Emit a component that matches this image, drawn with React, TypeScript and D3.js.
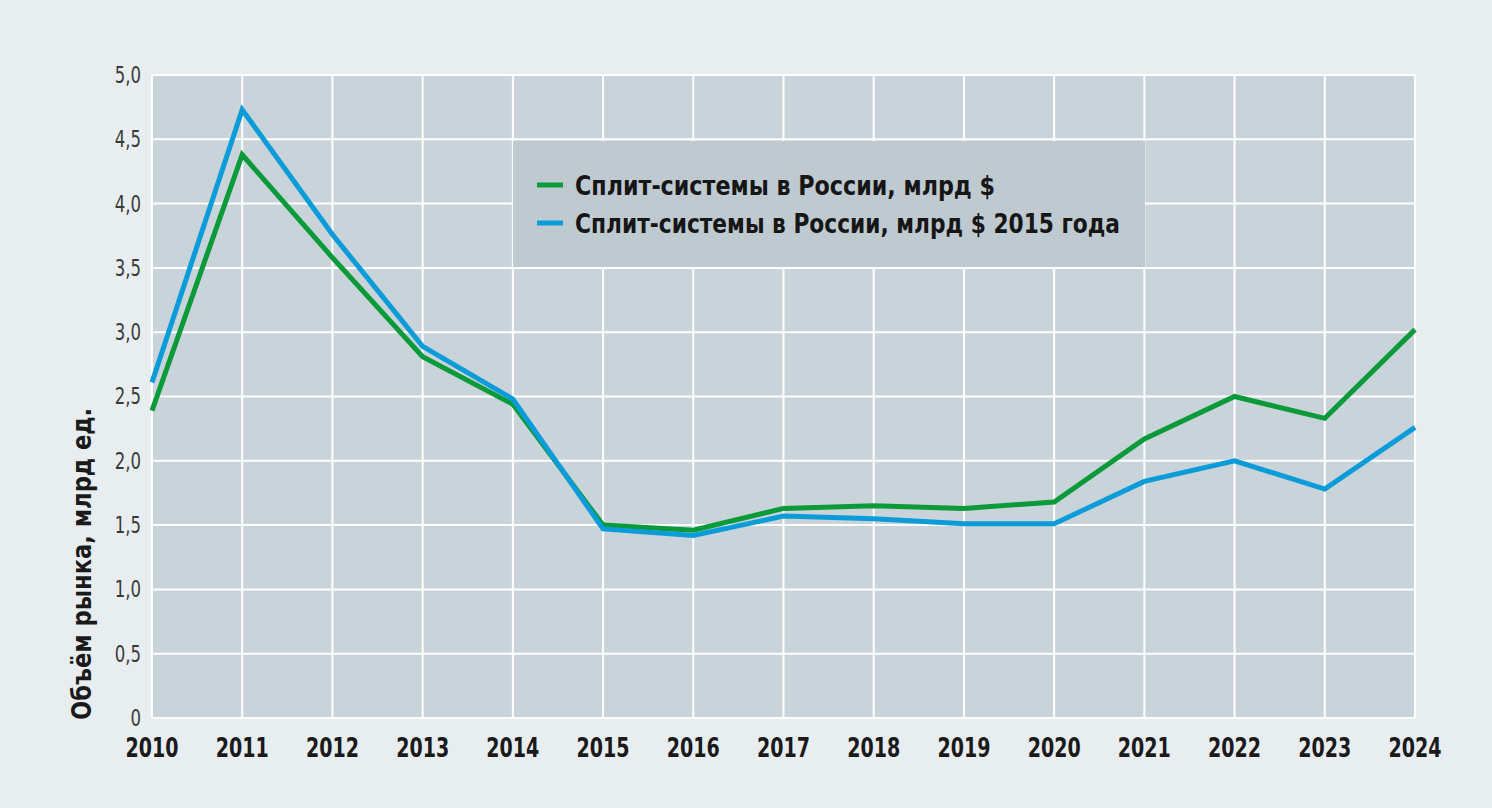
import React from "react";
import * as d3 from "d3";

const years = [2010, 2011, 2012, 2013, 2014, 2015, 2016, 2017, 2018, 2019, 2020, 2021, 2022, 2023, 2024];
const nominal = [2.39, 4.38, 3.58, 2.81, 2.44, 1.5, 1.46, 1.63, 1.65, 1.63, 1.68, 2.17, 2.5, 2.33, 3.02];
const real2015 = [2.61, 4.73, 3.76, 2.89, 2.48, 1.47, 1.42, 1.57, 1.55, 1.51, 1.51, 1.84, 2.0, 1.78, 2.26];
const yTicks = [0, 0.5, 1, 1.5, 2, 2.5, 3, 3.5, 4, 4.5, 5];
const seriesNames = ["Сплит-системы в России, млрд $", "Сплит-системы в России, млрд $ 2015 года"];
const yTitle = "Объём рынка, млрд ед.";

const W = 1492, H = 808;
const L = 152, R = 1415, T = 75, B = 718;
const COND = "'DejaVu Sans Condensed', 'Roboto Condensed', 'Liberation Sans Narrow', Roboto, sans-serif";

export default function App() {
  const x = d3.scaleLinear().domain([2010, 2024]).range([L, R]);
  const y = d3.scaleLinear().domain([0, 5]).range([B, T]);
  const line = d3.line<number>().x((_, i) => x(years[i])).y((d) => y(d));
  const fmt = (v: number) => (v === 0 ? "0" : v.toFixed(1).replace(".", ","));
  const colors = ["#0b9a3a", "#0a9bd9"];
  return (
    <svg width={W} height={H} style={{ position: "absolute", left: 0, top: 0, display: "block" }}>
      <rect x={0} y={0} width={W} height={H} fill="#e8edf0" />
      <rect x={L} y={T} width={R - L} height={B - T} fill="#c8d3da" />
      {yTicks.map((t) => (
        <line key={"h" + t} x1={L} x2={R} y1={y(t)} y2={y(t)} stroke="#ffffff" strokeWidth={2} />
      ))}
      {years.map((yr) => (
        <line key={"v" + yr} x1={x(yr)} x2={x(yr)} y1={T} y2={B} stroke="#ffffff" strokeWidth={2} />
      ))}
      {yTicks.map((t) => (
        <text key={"yt" + t} x={141} y={y(t) + 8} textAnchor="end" fontFamily={COND} fontSize={23} fill="#3a3a3a" fontWeight={300} transform={`translate(${141},0) scale(0.8,1) translate(${-141},0)`}>
          {fmt(t)}
        </text>
      ))}
      {years.map((yr) => (
        <text key={"xt" + yr} x={x(yr)} y={757} textAnchor="middle" fontFamily={COND} fontSize={27} fontWeight={700} fill="#1a1a1a" textLength={53} lengthAdjust="spacingAndGlyphs">
          {yr}
        </text>
      ))}
      <text transform={`translate(91,564) rotate(-90)`} textAnchor="middle" fontFamily={COND} fontSize={26} fontWeight={700} fill="#1a1a1a" textLength={312} lengthAdjust="spacingAndGlyphs">
        {yTitle}
      </text>
      {/* legend box */}
      <rect x={513} y={141} width={632} height={126} fill="#bec9d0" />
      {[nominal, real2015].map((s, i) => (
        <path key={"s" + i} d={line(s) || ""} fill="none" stroke={colors[i]} strokeWidth={5} strokeLinejoin="miter" />
      ))}
      {seriesNames.map((n, i) => (
        <g key={"lg" + i}>
          <line x1={537} x2={563} y1={185 + i * 38} y2={185 + i * 38} stroke={colors[i]} strokeWidth={5} />
          <text x={575} y={195 + i * 38} fontFamily={COND} fontSize={27} fontWeight={700} fill="#161616" textLength={i === 0 ? 420 : 545} lengthAdjust="spacingAndGlyphs">
            {n}
          </text>
        </g>
      ))}
    </svg>
  );
}
